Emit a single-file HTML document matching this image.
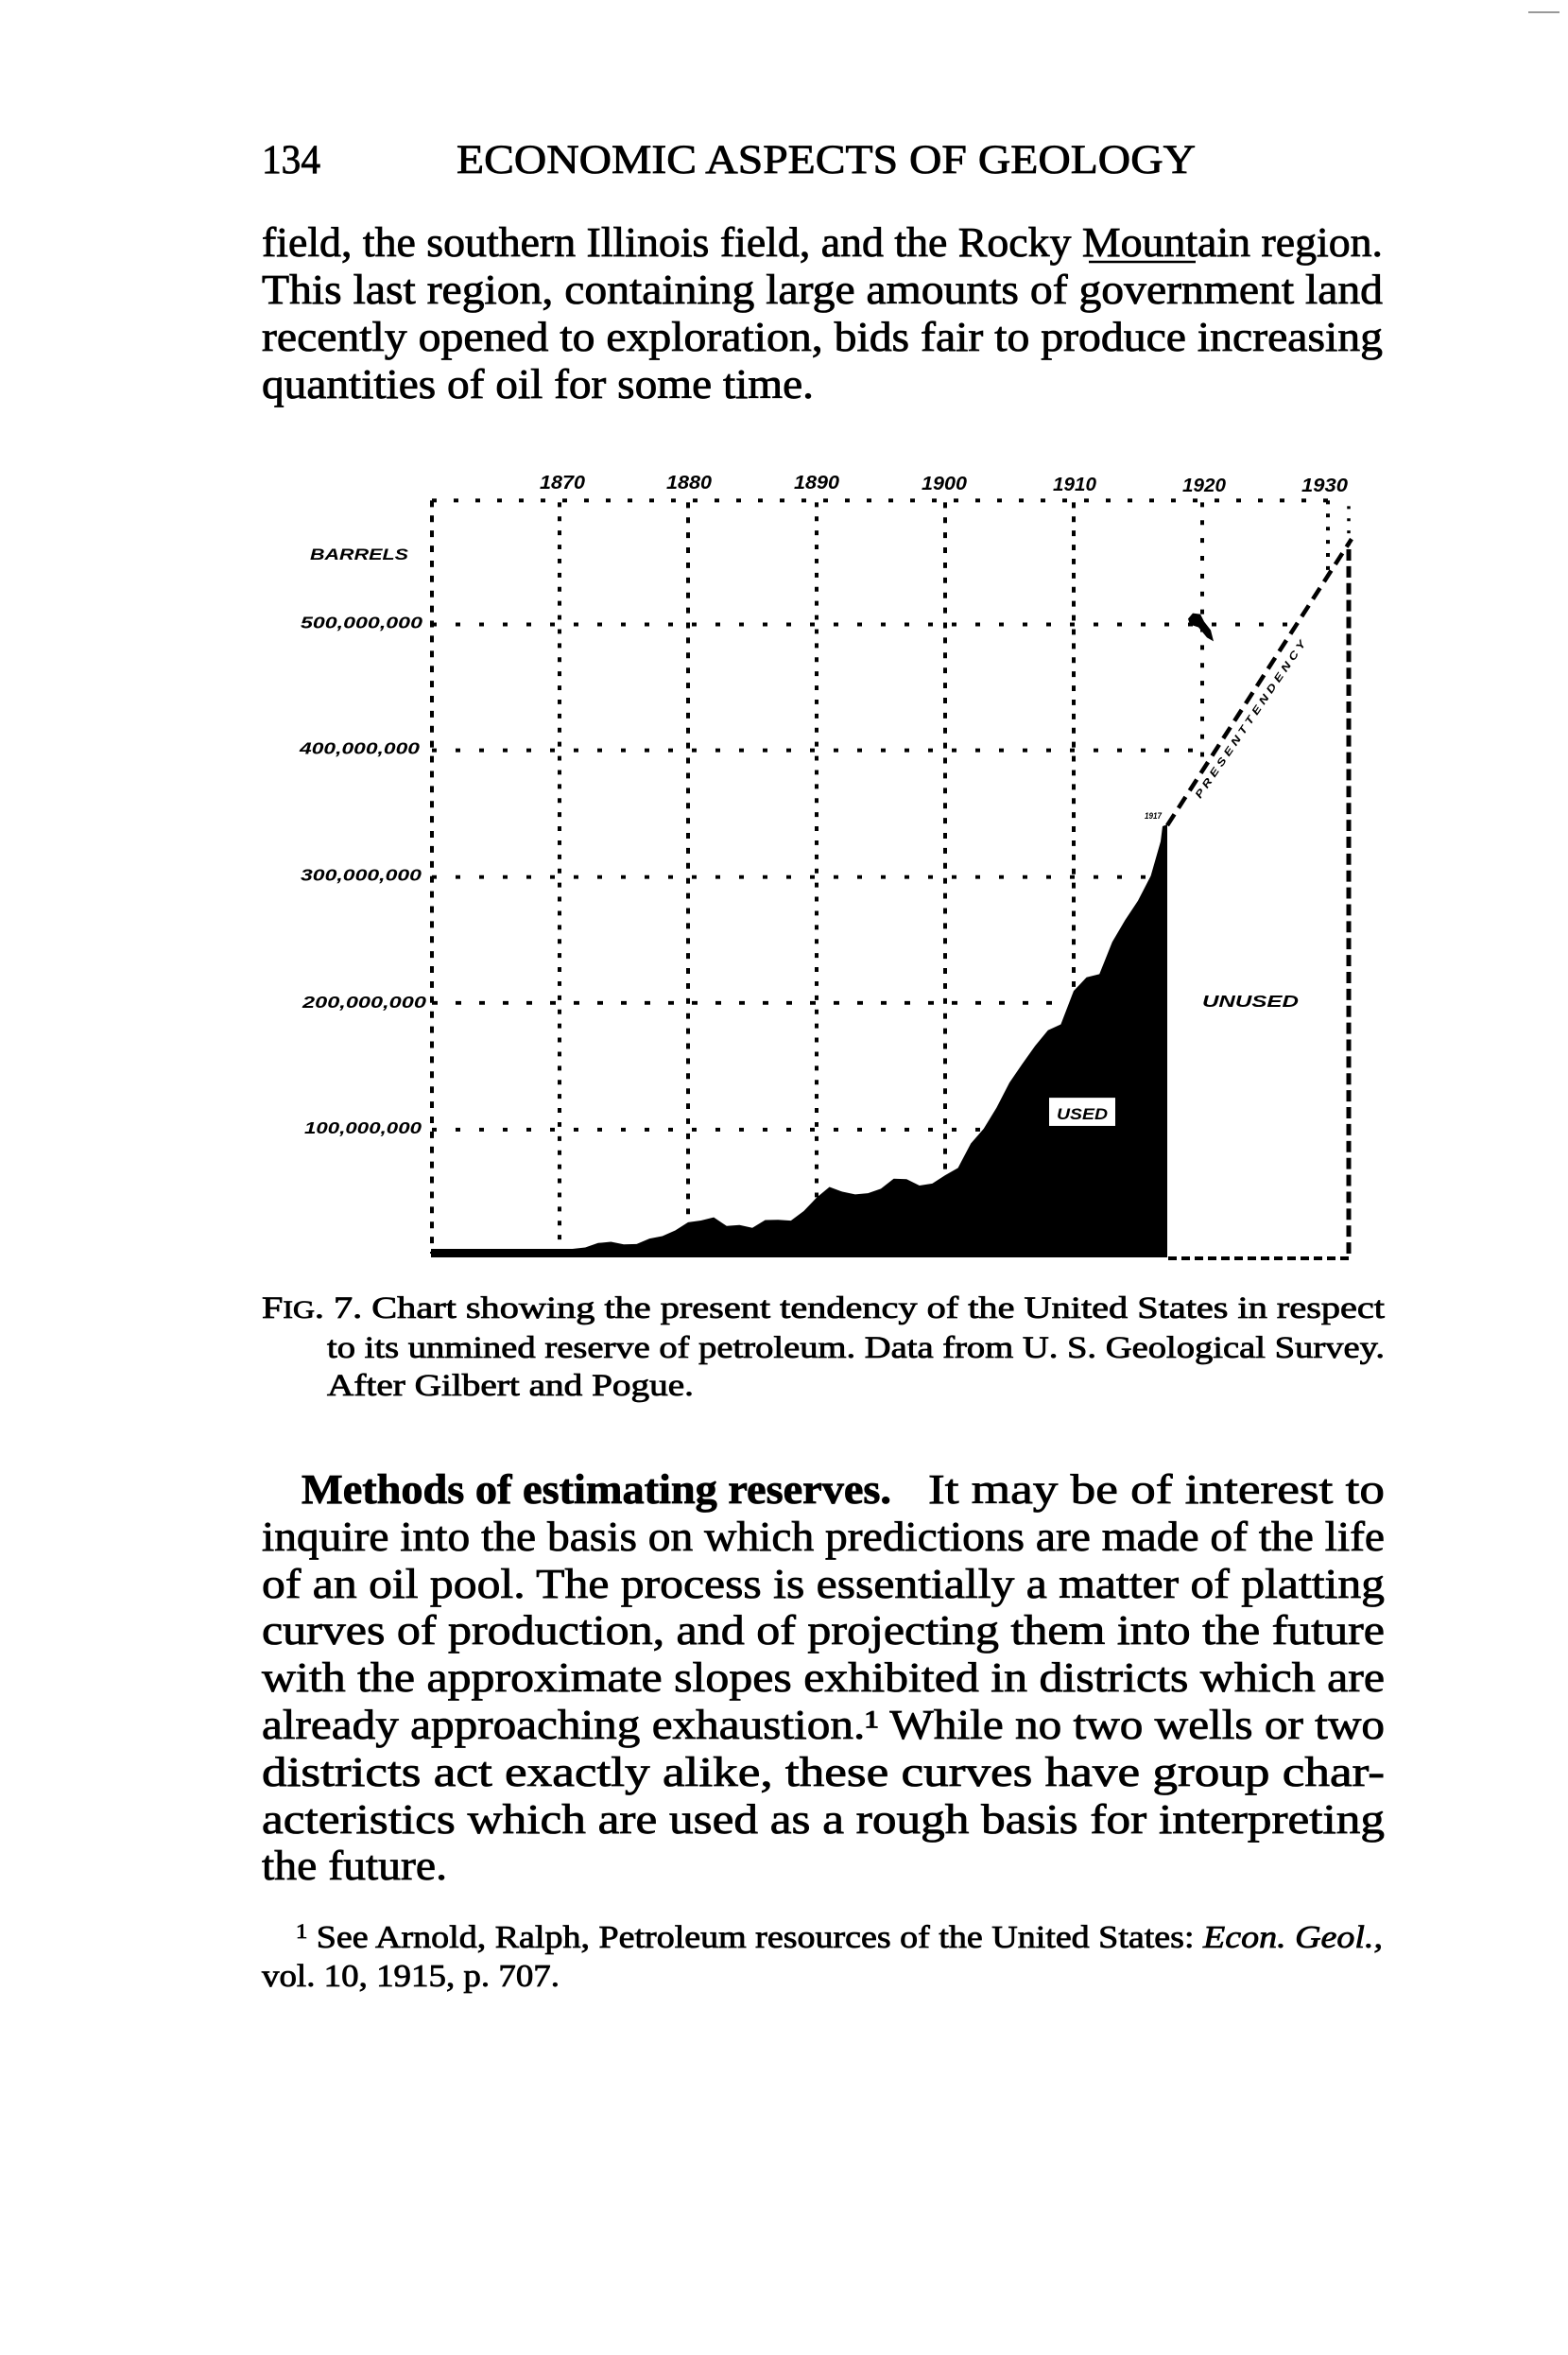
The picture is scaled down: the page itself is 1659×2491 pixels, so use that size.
<!DOCTYPE html>
<html>
<head>
<meta charset="utf-8">
<style>
  html, body { margin: 0; padding: 0; background: #fff; }
  svg { display: block; }
  .serif { font-family: "Liberation Serif", "DejaVu Serif", serif; fill: #000; stroke: #000; stroke-width: 0.8; }
  .lab { font-family: "Liberation Sans", "DejaVu Sans", sans-serif; font-weight: bold; font-style: italic; fill: #000; }
</style>
</head>
<body>
<svg width="1659" height="2491" viewBox="0 0 1659 2491" xmlns="http://www.w3.org/2000/svg">
  <rect x="0" y="0" width="1659" height="2491" fill="#fff"/>
  <line x1="1617" y1="13" x2="1650" y2="13" stroke="#999" stroke-width="2"/>

  <!-- Header -->
  <g class="serif">
    <text x="277" y="183" font-size="43" textLength="62" lengthAdjust="spacingAndGlyphs">134</text>
    <text x="483" y="183" font-size="43" textLength="782" lengthAdjust="spacingAndGlyphs">ECONOMIC ASPECTS OF GEOLOGY</text>

    <!-- Paragraph 1 -->
    <text x="277" y="271" font-size="44" textLength="1186" lengthAdjust="spacingAndGlyphs">field, the southern Illinois field, and the Rocky Mountain region.</text>
    <text x="277" y="321" font-size="44" textLength="1186" lengthAdjust="spacingAndGlyphs">This last region, containing large amounts of government land</text>
    <text x="277" y="371" font-size="44" textLength="1186" lengthAdjust="spacingAndGlyphs">recently opened to exploration, bids fair to produce increasing</text>
    <text x="277" y="421" font-size="44" textLength="584" lengthAdjust="spacingAndGlyphs">quantities of oil for some time.</text>
  </g>
  <line x1="1152" y1="277" x2="1265" y2="277" stroke="#000" stroke-width="2.5"/>

  <!-- Chart (slightly compressed vertically) -->
  <g transform="matrix(1 0 0 0.9933 0 0.95)">
  <g fill="none" stroke="#000">
    <line x1="457" y1="532" x2="457" y2="1334" stroke-width="4" stroke-dasharray="7 9"/>
    <line x1="457" y1="532" x2="1405" y2="532" stroke-width="4" stroke-dasharray="5 18"/>
    <line x1="592" y1="534" x2="592" y2="1330" stroke-width="4" stroke-dasharray="5 10"/>
    <line x1="728" y1="534" x2="728" y2="1330" stroke-width="4" stroke-dasharray="6 10"/>
    <line x1="864" y1="534" x2="864" y2="1300" stroke-width="4" stroke-dasharray="5 10"/>
    <line x1="1000" y1="534" x2="1000" y2="1290" stroke-width="4" stroke-dasharray="6 10"/>
    <line x1="1136" y1="534" x2="1136" y2="1100" stroke-width="4" stroke-dasharray="6 9"/>
    <line x1="1272" y1="534" x2="1272" y2="815" stroke-width="4" stroke-dasharray="5 14"/>
    <line x1="1405" y1="532" x2="1405" y2="608" stroke-width="4" stroke-dasharray="4 10"/>
    <line x1="457" y1="664" x2="1371" y2="664" stroke-width="4" stroke-dasharray="5 20"/>
    <line x1="457" y1="798" x2="1282" y2="798" stroke-width="4" stroke-dasharray="5 20"/>
    <line x1="457" y1="933" x2="1232" y2="933" stroke-width="4" stroke-dasharray="5 20"/>
    <line x1="457" y1="1067" x2="1232" y2="1067" stroke-width="4" stroke-dasharray="6 19"/>
    <line x1="457" y1="1202" x2="1232" y2="1202" stroke-width="4" stroke-dasharray="5 20"/>
    <line x1="1427" y1="538" x2="1427" y2="580" stroke-width="3.5" stroke-dasharray="3 10"/>
    <line x1="1427" y1="584" x2="1427" y2="1338" stroke-width="5" stroke-dasharray="12 6"/>
    <line x1="1236" y1="1339" x2="1427" y2="1339" stroke-width="4" stroke-dasharray="9 5"/>
    <line x1="1235" y1="878" x2="1430" y2="573" stroke-width="4.5" stroke-dasharray="14 8"/>
  </g>

  <polygon fill="#000" points="456,1329 469.6,1329 483.2,1329 496.8,1329 510.4,1329 524,1329 537.6,1329 551.2,1329 564.8,1329 578.4,1329 592,1328.9 605.6,1329 619.2,1327.5 632.8,1322.7 646.4,1321.4 660,1324.2 673.6,1323.8 687.2,1318 700.8,1315.3 714.4,1309.3 728,1300.7 741.6,1298.8 755.2,1295.3 768.8,1304.6 782.4,1303.5 796,1306.6 809.6,1298.2 823.2,1298 836.8,1298.9 850.4,1288.7 864,1274.4 877.6,1263 891.2,1268.1 904.8,1271 918.4,1269.7 932,1264.9 945.6,1254.2 959.2,1254.7 972.8,1261.5 986.4,1259.3 1000,1250.5 1013.6,1242.7 1027.2,1216.7 1040.8,1201 1054.4,1178.6 1068,1152 1081.6,1132 1095.2,1112.8 1108.8,1096.1 1122.4,1089.8 1136,1054.3 1149.6,1039.8 1163.2,1036.4 1176.8,1002.2 1190.4,978.8 1204,958.2 1217.6,931.7 1228,895 1230,879 1235,877 1235,1338 456,1338"/>

  <rect x="1110" y="1168" width="70" height="30" fill="#fff"/>
  <text class="lab" x="1118" y="1191" font-size="17" font-style="normal" textLength="54" lengthAdjust="spacingAndGlyphs">USED</text>

  <text class="lab" x="1272" y="1071" font-size="18" font-style="normal" textLength="102" lengthAdjust="spacingAndGlyphs">UNUSED</text>

  <text class="lab" x="1211" y="871" font-size="9" textLength="18" lengthAdjust="spacingAndGlyphs">1917</text>

  <path d="M1257,658 L1262,652 L1270,653 L1274,661 L1281,670 L1284,682 L1277,678 L1268,667 L1259,664 Z" fill="#000"/>

  <text class="lab" font-size="11" font-style="normal" transform="translate(1270,850) rotate(-56)" textLength="200" lengthAdjust="spacingAndGlyphs">P R E S E N T    T E N D E N C Y</text>

  <g class="lab">
    <text x="318" y="668" font-size="18" textLength="129" lengthAdjust="spacingAndGlyphs">500,000,000</text>
    <text x="317" y="802" font-size="18" textLength="127" lengthAdjust="spacingAndGlyphs">400,000,000</text>
    <text x="318" y="937" font-size="18" textLength="128" lengthAdjust="spacingAndGlyphs">300,000,000</text>
    <text x="320" y="1072" font-size="18" textLength="131" lengthAdjust="spacingAndGlyphs">200,000,000</text>
    <text x="322" y="1206" font-size="18" textLength="124" lengthAdjust="spacingAndGlyphs">100,000,000</text>
    <text x="328" y="595" font-size="17" textLength="104" lengthAdjust="spacingAndGlyphs">BARRELS</text>
  </g>
  </g>

  <g class="lab">
    <text x="571" y="517" font-size="20" textLength="48" lengthAdjust="spacingAndGlyphs">1870</text>
    <text x="705" y="517" font-size="20" textLength="48" lengthAdjust="spacingAndGlyphs">1880</text>
    <text x="840" y="517" font-size="20" textLength="48" lengthAdjust="spacingAndGlyphs">1890</text>
    <text x="975" y="518" font-size="20" textLength="48" lengthAdjust="spacingAndGlyphs">1900</text>
    <text x="1114" y="519" font-size="20" textLength="46" lengthAdjust="spacingAndGlyphs">1910</text>
    <text x="1251" y="520" font-size="20" textLength="46" lengthAdjust="spacingAndGlyphs">1920</text>
    <text x="1377" y="520" font-size="20" textLength="49" lengthAdjust="spacingAndGlyphs">1930</text>
  </g>

  <!-- Caption -->
  <g class="serif">
    <text x="277" y="1394" font-size="33" textLength="1188" lengthAdjust="spacingAndGlyphs">F<tspan font-size="26">IG</tspan>. 7.  Chart showing the present tendency of the United States in respect</text>
    <text x="346" y="1436" font-size="33" textLength="1119" lengthAdjust="spacingAndGlyphs">to its unmined reserve of petroleum.  Data from U. S. Geological Survey.</text>
    <text x="346" y="1476" font-size="33" textLength="388" lengthAdjust="spacingAndGlyphs">After Gilbert and Pogue.</text>

    <!-- Methods paragraph -->
    <text x="319" y="1590" font-size="44" font-weight="bold" textLength="624" lengthAdjust="spacingAndGlyphs">Methods of estimating reserves.</text>
    <text x="982" y="1590" font-size="44" textLength="483" lengthAdjust="spacingAndGlyphs">It may be of interest to</text>
    <text x="277" y="1640" font-size="44" textLength="1188" lengthAdjust="spacingAndGlyphs">inquire into the basis on which predictions are made of the life</text>
    <text x="277" y="1690" font-size="44" textLength="1188" lengthAdjust="spacingAndGlyphs">of an oil pool.  The process is essentially a matter of platting</text>
    <text x="277" y="1739" font-size="44" textLength="1188" lengthAdjust="spacingAndGlyphs">curves of production, and of projecting them into the future</text>
    <text x="277" y="1789" font-size="44" textLength="1188" lengthAdjust="spacingAndGlyphs">with the approximate slopes exhibited in districts which are</text>
    <text x="277" y="1839" font-size="44" textLength="1188" lengthAdjust="spacingAndGlyphs">already approaching exhaustion.¹  While no two wells or two</text>
    <text x="277" y="1889" font-size="44" textLength="1188" lengthAdjust="spacingAndGlyphs">districts act exactly alike, these curves have group char-</text>
    <text x="277" y="1939" font-size="44" textLength="1188" lengthAdjust="spacingAndGlyphs">acteristics which are used as a rough basis for interpreting</text>
    <text x="277" y="1988" font-size="44" textLength="196" lengthAdjust="spacingAndGlyphs">the future.</text>

    <!-- Footnote -->
    <text x="313" y="2060" font-size="34" textLength="1150" lengthAdjust="spacingAndGlyphs"><tspan font-size="22" dy="-10">1</tspan><tspan dy="10"> See Arnold, Ralph, Petroleum resources of the United States: </tspan><tspan font-style="italic">Econ. Geol.,</tspan></text>
    <text x="277" y="2101" font-size="34" textLength="315" lengthAdjust="spacingAndGlyphs">vol. 10, 1915, p. 707.</text>
  </g>
</svg>
</body>
</html>
